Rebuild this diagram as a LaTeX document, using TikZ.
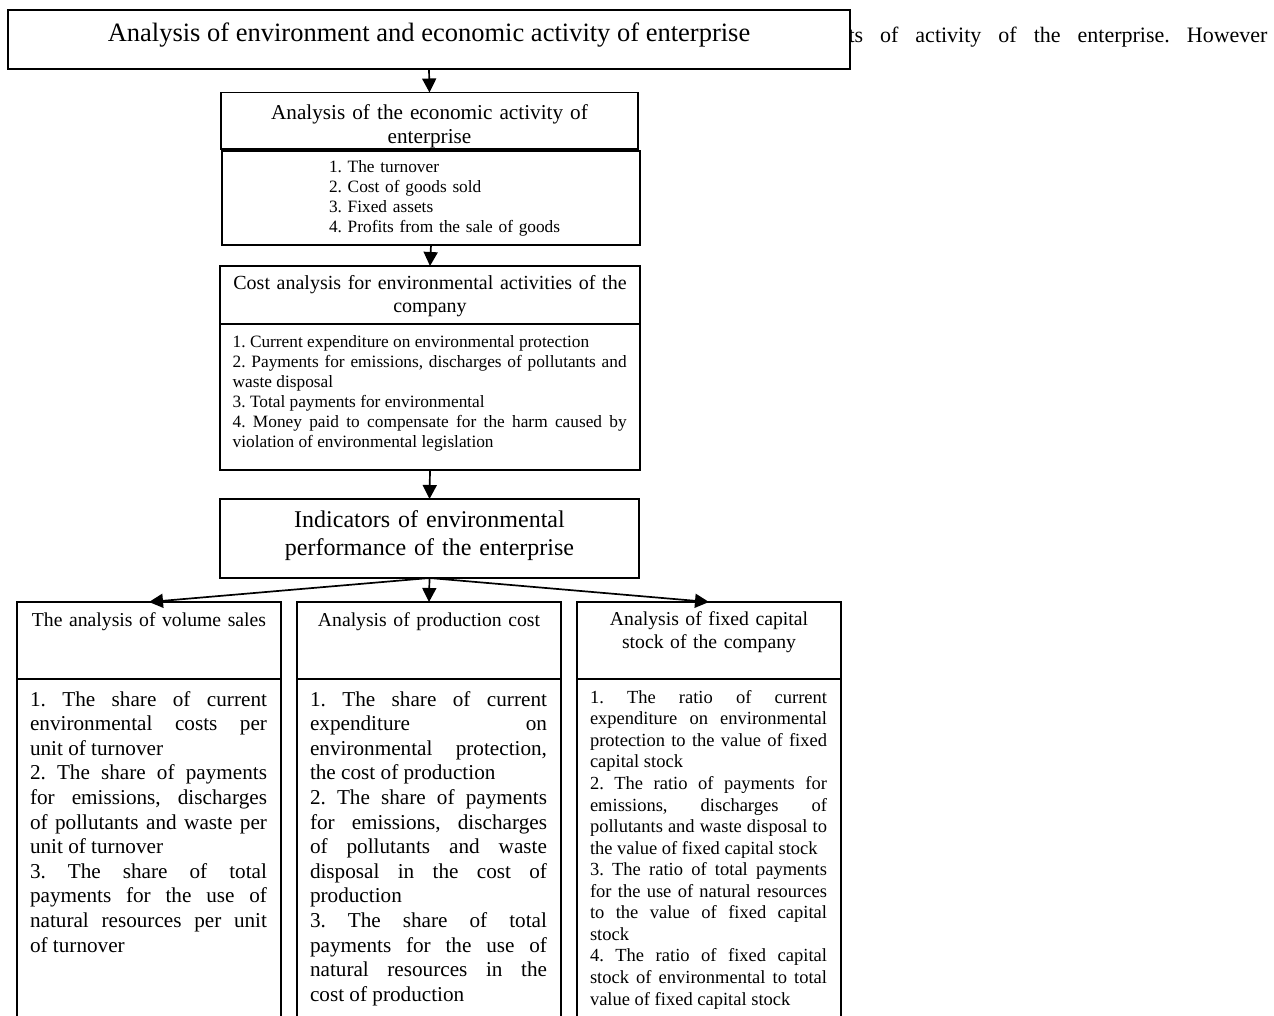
\documentclass[tikz,border=0pt]{standalone}
\usepackage{fontspec}
\setmainfont{Liberation Serif}
\usetikzlibrary{arrows.meta}
\newcommand\fsz[2]{\fontsize{#1}{#2}\selectfont}
\begin{document}
\frenchspacing
\begin{tikzpicture}[x=1pt,y=-1pt,
  box/.style={draw, line width=1.6pt, fill=white, rectangle, inner sep=0pt, outer sep=0pt, anchor=north west},
  conn/.style={line width=1.7pt, -{Triangle[width=14pt,length=14pt]}},
  txt/.style={inner sep=0pt, outer sep=0pt},
  ctitle/.style={txt, anchor=base, align=center},
  para/.style={txt, anchor=base west, align=justify, execute at begin node={\tolerance=10000\hyphenpenalty=10000}},
]
\useasboundingbox (0,0) rectangle (1274,1016);
\fill[white] (0,0) rectangle (1274,1016);
\clip (0,0) rectangle (1274,1016);

% running text behind the top box
\node[txt, anchor=base west, font=\fsz{22}{26}] (body) at (848.5,43) {\makebox[419pt][s]{ts of activity of the enterprise. However}};

% top box
\node[box, minimum width=842pt, minimum height=59pt] (top) at (8,10) {};
\node[txt, anchor=base, font=\fsz{26.5}{30}] (toptext) at (429,42) {Analysis of environment and economic activity of enterprise};

% box 2
\node[box, minimum width=417pt, minimum height=56.5pt] (b2t) at (221,92.5) {};
\node[ctitle, text width=417pt, font=\fsz{21.2}{24}] (b2tt) at (429.5,120) {Analysis of the economic activity of\par enterprise};
\node[box, minimum width=418pt, minimum height=94pt] (b2l) at (222,151) {};
\node[txt, anchor=base west, text width=300pt, align=left, font=\fsz{17.3}{19.8}] (b2lt) at (329,172.7) {1. The turnover\par 2. Cost of goods sold\par 3. Fixed assets\par 4. Profits from the sale of goods};

% box 3
\node[box, minimum width=420pt, minimum height=58pt] (b3t) at (220,266) {};
\node[ctitle, text width=420pt, font=\fsz{20}{23}] (b3tt) at (430,290) {Cost analysis for environmental activities of the\par company};
\node[box, minimum width=420pt, minimum height=146pt] (b3l) at (220,324) {};
\node[para, text width=394pt, font=\fsz{17.3}{19.9}] (b3lt) at (232.7,347.7) {1. Current expenditure on environmental protection\par 2. Payments for emissions, discharges of pollutants and\linebreak waste disposal\par 3. Total payments for environmental\par 4. Money paid to compensate for the harm caused by\linebreak violation of environmental legislation};

% box 4
\node[box, minimum width=419pt, minimum height=79pt] (b4) at (220,499) {};
\node[ctitle, text width=419pt, font=\fsz{24}{27.4}] (b4t) at (429.5,527.7) {Indicators of environmental\par performance of the enterprise};

% bottom boxes
\node[box, minimum width=264pt, minimum height=77pt] (lt) at (17,602) {};
\node[box, minimum width=264pt, minimum height=360pt] (ll) at (17,679) {};
\node[box, minimum width=264pt, minimum height=77pt] (ct) at (297,602) {};
\node[box, minimum width=264pt, minimum height=360pt] (cl) at (297,679) {};
\node[box, minimum width=264pt, minimum height=77pt] (rt) at (577,602) {};
\node[box, minimum width=264pt, minimum height=360pt] (rl) at (577,679) {};

\node[ctitle, text width=260pt, font=\fsz{19.7}{23}] (ltt) at (149,626) {The analysis of volume sales};
\node[ctitle, text width=260pt, font=\fsz{19.7}{23}] (ctt) at (429,626) {Analysis of production cost};
\node[ctitle, text width=260pt, font=\fsz{19.7}{23}] (rtt) at (709,625) {Analysis of fixed capital\par stock of the company};

\node[para, text width=237pt, font=\fsz{21.2}{24.6}] (llt) at (30,706) {1. The share of current\linebreak environmental costs per\linebreak unit of turnover\par 2. The share of payments\linebreak for emissions, discharges\linebreak of pollutants and waste per\linebreak unit of turnover\par 3. The share of total\linebreak payments for the use of\linebreak natural resources per unit\linebreak of turnover};

\node[para, text width=237pt, font=\fsz{21.2}{24.6}] (clt) at (310,706) {1. The share of current\linebreak expenditure on\linebreak environmental protection,\linebreak the cost of production\par 2. The share of payments\linebreak for emissions, discharges\linebreak of pollutants and waste\linebreak disposal in the cost of\linebreak production\par 3. The share of total\linebreak payments for the use of\linebreak natural resources in the\linebreak cost of production};

\node[para, text width=237pt, font=\fsz{18.5}{21.55}] (rlt) at (590,703.3) {1. The ratio of current\linebreak expenditure on environmental\linebreak protection to the value of fixed\linebreak capital stock\par 2. The ratio of payments for\linebreak emissions, discharges of\linebreak pollutants and waste disposal to\linebreak the value of fixed capital stock\par 3. The ratio of total payments\linebreak for the use of natural resources\linebreak to the value of fixed capital\linebreak stock\par 4. The ratio of fixed capital\linebreak stock of environmental to total\linebreak value of fixed capital stock};

% connectors
\draw[conn] (top.south) -- (b2t.north);
\draw[conn] (b2l.south) -- (b3t.north);
\draw[conn] (b3l.south) -- (b4.north);
\draw[conn] (b4.south) -- (lt.north);
\draw[conn] (b4.south) -- (ct.north);
\draw[conn] (b4.south) -- (rt.north);
\end{tikzpicture}
\end{document}
